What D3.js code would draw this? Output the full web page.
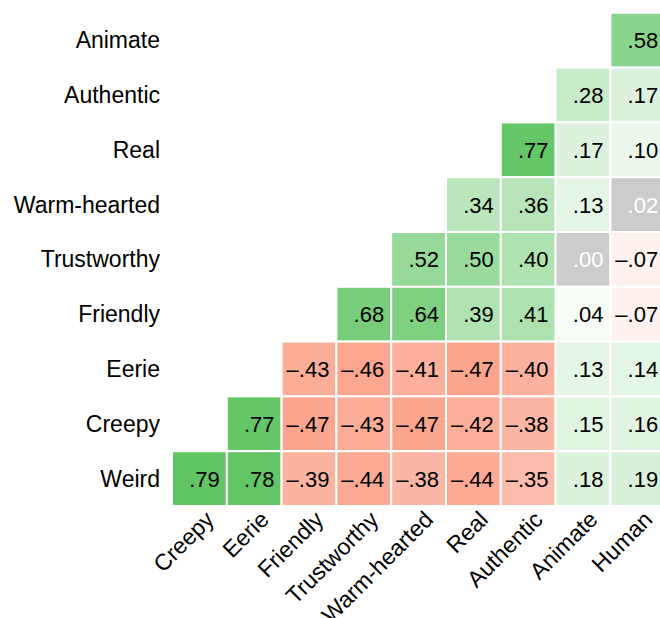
<!DOCTYPE html>
<html><head><meta charset="utf-8">
<script src="https://cdn.jsdelivr.net/npm/d3@7"></script>
<style>body{margin:0;background:#fff}svg{display:block;font-family:"Liberation Sans",Arial,sans-serif}</style>
</head><body><svg id="c" width="660" height="618"></svg>
<script>
const rowLabels = ["Animate","Authentic","Real","Warm-hearted","Trustworthy","Friendly","Eerie","Creepy","Weird"];
const colLabels = ["Creepy","Eerie","Friendly","Trustworthy","Warm-hearted","Real","Authentic","Animate","Human"];
const rowAnimate     = [null,null,null,null,null,null,null,null,0.58];
const rowAuthentic   = [null,null,null,null,null,null,null,0.28,0.17];
const rowReal        = [null,null,null,null,null,null,0.77,0.17,0.10];
const rowWarmHearted = [null,null,null,null,null,0.34,0.36,0.13,0.02];
const rowTrustworthy = [null,null,null,null,0.52,0.50,0.40,0.00,-0.07];
const rowFriendly    = [null,null,null,0.68,0.64,0.39,0.41,0.04,-0.07];
const rowEerie       = [null,null,-0.43,-0.46,-0.41,-0.47,-0.40,0.13,0.14];
const rowCreepy      = [null,0.77,-0.47,-0.43,-0.47,-0.42,-0.38,0.15,0.16];
const rowWeird       = [0.79,0.78,-0.39,-0.44,-0.38,-0.44,-0.35,0.18,0.19];
const matrix = [rowAnimate,rowAuthentic,rowReal,rowWarmHearted,rowTrustworthy,rowFriendly,rowEerie,rowCreepy,rowWeird];

const cells = [];
matrix.forEach((r,i)=>r.forEach((v,j)=>{ if(v!==null) cells.push({row:rowLabels[i],col:colLabels[j],v}); }));

const svg = d3.select("#c");
const step = 54.8;
const x = d3.scaleBand().domain(colLabels).range([172, 172+9*step]).padding(0);
const y = d3.scaleBand().domain(rowLabels).range([12.8, 12.8+9*step]).padding(0);

const green = d3.scaleLinear().domain([0,0.8]).range(["#ffffff","#5fc462"]).clamp(true);
const red = d3.scaleLinear().domain([0,0.47]).range(["#ffffff","#fba58e"]).clamp(true);
function fill(v){ if(Math.abs(v)<0.03) return "#cccccc"; return v>0?green(v):red(-v); }
const fmt = v => { let s = d3.format(".2f")(Math.abs(v)).replace(/^0/,""); return (v<0?"\u2013":"")+s; };

svg.append("g").selectAll("rect").data(cells).join("rect")
  .attr("x",d=>x(d.col)).attr("y",d=>y(d.row))
  .attr("width",x.bandwidth()).attr("height",y.bandwidth())
  .attr("fill",d=>fill(d.v)).attr("stroke","#fff").attr("stroke-width",2);

svg.append("g").selectAll("text").data(cells).join("text")
  .attr("x",d=>x(d.col)+x.bandwidth()-7).attr("y",d=>y(d.row)+y.bandwidth()/2+8)
  .attr("text-anchor","end").attr("font-size",22)
  .attr("fill",d=>Math.abs(d.v)<0.03?"#ffffff":"#000000")
  .text(d=>fmt(d.v));

const yAxis = svg.append("g").attr("transform","translate(172,0)")
  .call(d3.axisLeft(y).tickSize(0).tickPadding(12));
yAxis.select(".domain").remove();
yAxis.selectAll("text").attr("font-size",23).attr("font-family","Liberation Sans, Arial, sans-serif").attr("fill","#000").attr("dy","0.35em");

const xAxis = svg.append("g").attr("transform",`translate(0,${12.8+9*step})`)
  .call(d3.axisBottom(x).tickSize(0).tickPadding(0));
xAxis.select(".domain").remove();
xAxis.selectAll("text").attr("font-size",23).attr("font-family","Liberation Sans, Arial, sans-serif").attr("fill","#000")
  .attr("text-anchor","end").attr("dy",0)
  .attr("transform","translate(16,15) rotate(-45)");
</script></body></html>
